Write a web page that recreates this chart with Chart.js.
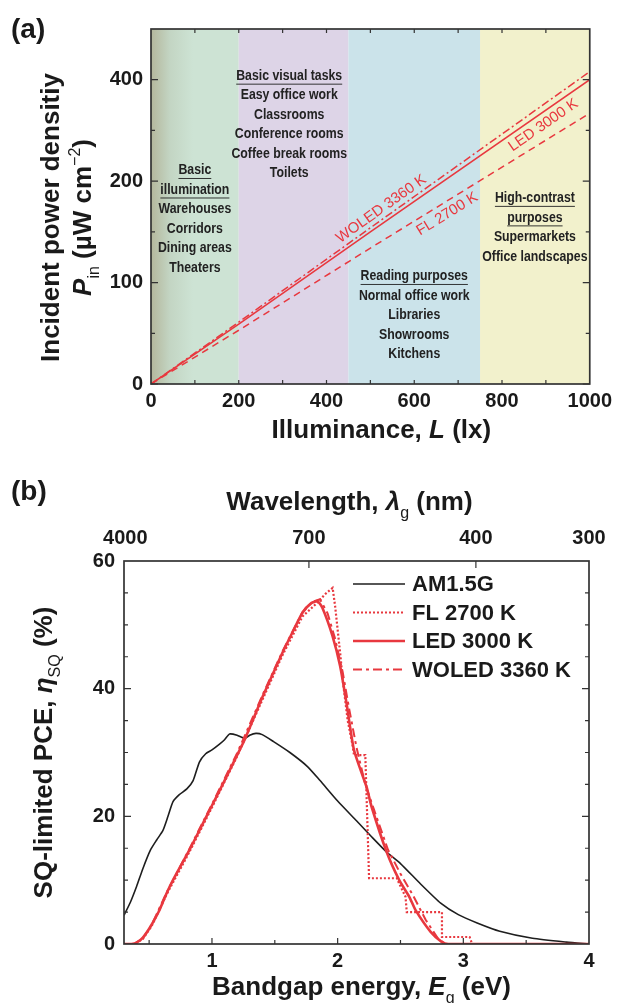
<!DOCTYPE html>
<html>
<head>
<meta charset="utf-8">
<title>Indoor light sources: power density and SQ-limited PCE</title>
<script src="https://cdn.jsdelivr.net/npm/chart.js@4.4.1/dist/chart.umd.min.js"></script>
<style>
  body { margin: 0; background: #fff; }
  canvas { display: block; }
</style>
</head>
<body>
<canvas id="illumCanvas" width="617" height="470"></canvas>
<canvas id="pceCanvas" width="617" height="533"></canvas>
<script>
// ---- (a) incident power density vs illuminance ----
var illuminance = [0, 200, 500, 1000];
var woledPower = [0, 61, 154, 308];
var ledPower = [0, 59, 150, 300];
var flPower = [0, 53, 134, 267];
var illumTicks = [0, 200, 400, 600, 800, 1000];
var powerTicks = [0, 100, 200, 300];
var powerTickLabels = ['0', '100', '200', '400'];
var zoneBounds = [0, 200, 450, 750, 1000];
var zoneHeads = [['Basic', 'illumination'], ['Basic visual tasks'], ['Reading purposes'], ['High-contrast', 'purposes']];
var zoneUses = [
  ['Warehouses', 'Corridors', 'Dining areas', 'Theaters'],
  ['Easy office work', 'Classrooms', 'Conference rooms', 'Coffee break rooms', 'Toilets'],
  ['Normal office work', 'Libraries', 'Showrooms', 'Kitchens'],
  ['Supermarkets', 'Office landscapes']
];

// ---- (b) SQ-limited PCE vs bandgap ----
var amEnergy = [0.30, 0.35, 0.40, 0.45, 0.51, 0.56, 0.61, 0.65, 0.69, 0.74, 0.80, 0.85, 0.90, 0.95, 1.00, 1.06, 1.10, 1.14, 1.20, 1.26, 1.30, 1.35, 1.40, 1.49, 1.62, 1.76, 1.86, 2.00, 2.15, 2.27, 2.39, 2.50, 2.66, 2.82, 2.96, 3.11, 3.29, 3.55, 3.82, 4.00];
var amPce = [4.5, 6.5, 9.0, 11.8, 14.7, 16.3, 17.8, 20.0, 22.3, 23.4, 24.3, 25.6, 28.5, 29.8, 30.4, 31.3, 32.0, 32.9, 32.7, 32.2, 32.7, 33.0, 32.8, 31.7, 30.0, 27.8, 25.6, 22.4, 19.3, 16.8, 14.4, 12.6, 9.4, 6.4, 4.6, 3.3, 2.0, 0.9, 0.3, 0.0];
var flEnergy = [0.30, 0.38, 0.45, 0.52, 0.64, 0.82, 1.00, 1.20, 1.40, 1.56, 1.72, 1.84, 1.90, 1.96, 1.98, 2.02, 2.04, 2.08, 2.12, 2.13, 2.22, 2.25, 2.47, 2.54, 2.55, 2.83, 2.83, 3.05, 3.07, 4.00];
var flPce = [0, 0, 0.8, 2.8, 7.8, 14.4, 21.4, 29.4, 38.2, 45.2, 51.3, 53.5, 54.8, 55.8, 52.9, 45.6, 41.4, 35.0, 31.0, 29.6, 29.6, 10.3, 10.3, 7.4, 5.0, 5.0, 1.1, 1.1, 0, 0];
var ledEnergy = [0.30, 0.36, 0.40, 0.45, 0.51, 0.58, 0.64, 0.70, 0.82, 0.90, 1.00, 1.10, 1.20, 1.26, 1.40, 1.56, 1.64, 1.72, 1.79, 1.84, 1.88, 1.96, 2.02, 2.07, 2.13, 2.23, 2.27, 2.39, 2.49, 2.57, 2.62, 2.74, 2.83, 2.88, 4.00];
var ledPce = [0, 0, 0.2, 1.0, 2.7, 5.2, 8.0, 10.4, 14.7, 17.8, 21.7, 25.6, 29.6, 32.0, 38.6, 45.6, 48.8, 51.9, 53.4, 53.7, 52.6, 48.2, 43.5, 37.8, 30.4, 24.6, 21.5, 14.4, 10.0, 7.4, 5.3, 1.9, 0.3, 0, 0];
var woledEnergy = [0.30, 0.38, 0.45, 0.52, 0.64, 0.82, 1.00, 1.20, 1.40, 1.56, 1.72, 1.80, 1.86, 1.92, 1.98, 2.04, 2.09, 2.15, 2.22, 2.29, 2.40, 2.50, 2.60, 2.70, 2.80, 2.86, 4.00];
var woledPce = [0, 0, 0.9, 3.0, 8.1, 14.9, 21.9, 29.9, 38.9, 45.8, 52.0, 53.6, 54.0, 51.8, 47.8, 42.6, 37.0, 30.8, 25.0, 21.0, 14.8, 11.0, 7.6, 3.8, 0.8, 0, 0];
var energyTicks = [1, 2, 3, 4];
var pceTicks = [0, 20, 40, 60];
var wavelengthTicks = [4000, 700, 400, 300];

var FAMILY = "'Liberation Sans', Arial, Helvetica, sans-serif";
var RED = '#e8383f';
var INK = '#1a1a1a';
Chart.defaults.font.family = FAMILY;
Chart.defaults.color = INK;

function pairs(xs, ys) {
  return xs.map(function (x, i) { return { x: x, y: ys[i] }; });
}

function range(from, to, step) {
  var out = [];
  for (var v = from; v <= to + 1e-9; v += step) out.push(Math.round(v * 1000) / 1000);
  return out;
}

// draws a line of mixed bold / italic / sub / sup pieces centred on (x, y)
function richText(ctx, parts, x, y, size, angle) {
  ctx.save();
  ctx.translate(x, y);
  if (angle) ctx.rotate(angle);
  var fonts = parts.map(function (p) {
    var k = p[1] || 'b';
    if (k === 'sub' || k === 'sup') return Math.round(size * 0.62) + 'px ' + FAMILY;
    return (k === 'bi' ? 'italic bold ' : 'bold ') + size + 'px ' + FAMILY;
  });
  var widths = parts.map(function (p, i) { ctx.font = fonts[i]; return ctx.measureText(p[0]).width; });
  var cx = -widths.reduce(function (s, w) { return s + w; }, 0) / 2;
  ctx.textAlign = 'left';
  ctx.textBaseline = 'alphabetic';
  ctx.fillStyle = INK;
  parts.forEach(function (p, i) {
    ctx.font = fonts[i];
    var dy = p[1] === 'sub' ? size * 0.3 : (p[1] === 'sup' ? -size * 0.42 : 0);
    ctx.fillText(p[0], cx, dy);
    cx += widths[i];
  });
  ctx.restore();
}

// box around the plot with inward tick marks
function framePlugin(marks) {
  return {
    id: 'frame',
    afterDatasetsDraw: function (chart) {
      var ctx = chart.ctx, a = chart.chartArea;
      ctx.save();
      ctx.strokeStyle = '#333';
      ctx.lineWidth = 1.2;
      ctx.beginPath();
      marks.forEach(function (m) {
        var scale = chart.scales[m.scale];
        m.values.forEach(function (v) {
          var p = scale.getPixelForValue(v);
          m.sides.forEach(function (side) {
            if (side === 'bottom') { ctx.moveTo(p, a.bottom); ctx.lineTo(p, a.bottom - m.len); }
            if (side === 'top') { ctx.moveTo(p, a.top); ctx.lineTo(p, a.top + m.len); }
            if (side === 'left') { ctx.moveTo(a.left, p); ctx.lineTo(a.left + m.len, p); }
            if (side === 'right') { ctx.moveTo(a.right, p); ctx.lineTo(a.right - m.len, p); }
          });
        });
      });
      ctx.stroke();
      ctx.lineWidth = 1.7;
      ctx.strokeRect(a.left, a.top, a.right - a.left, a.bottom - a.top);
      ctx.restore();
    }
  };
}

function fixedScale(ticks, labels, size) {
  return {
    type: 'linear',
    grid: { display: false, drawTicks: false },
    border: { display: false },
    ticks: {
      autoSkip: false,
      maxRotation: 0,
      font: { size: 20, weight: 'bold' },
      color: INK,
      callback: function (v, i) { return labels[i]; }
    },
    afterBuildTicks: function (s) { s.ticks = ticks.map(function (v) { return { value: v }; }); },
    afterFit: function (s) { if (s.isHorizontal()) s.height = size; else s.width = size; }
  };
}

// ---------------- panel (a) ----------------
var zonePlugin = {
  id: 'zones',
  beforeDatasetsDraw: function (chart) {
    var ctx = chart.ctx, a = chart.chartArea, xs = chart.scales.x, ys = chart.scales.y;
    var colors = ['#cde3d4', '#ddd4e7', '#cbe3ea', '#f2f1cc'];
    // label anchors: lux of the column centre, power of the first line
    var textAt = [100, 315, 600, 875];
    var textTop = [211, 304, 106.5, 183.5];
    ctx.save();
    for (var i = 0; i < zoneBounds.length - 1; i++) {
      var x0 = xs.getPixelForValue(zoneBounds[i]);
      var x1 = xs.getPixelForValue(zoneBounds[i + 1]);
      var fill = colors[i];
      if (i === 0) {
        fill = ctx.createLinearGradient(x0, 0, x0 + 42, 0);
        fill.addColorStop(0, '#b4b79c');
        fill.addColorStop(0.45, '#c3d5c3');
        fill.addColorStop(1, colors[0]);
      }
      ctx.fillStyle = fill;
      ctx.fillRect(x0, a.top, x1 - x0, a.bottom - a.top);
    }
    ctx.fillStyle = '#222';
    ctx.strokeStyle = '#222';
    ctx.lineWidth = 1;
    ctx.font = 'bold 15px ' + FAMILY;
    ctx.textAlign = 'center';
    ctx.textBaseline = 'middle';
    for (var j = 0; j < zoneHeads.length; j++) {
      var cx = xs.getPixelForValue(textAt[j]);
      var cy = ys.getPixelForValue(textTop[j]);
      var lines = zoneHeads[j].concat(zoneUses[j]);
      lines.forEach(function (t, k) {
        var y = cy + k * 19.5;
        ctx.save();
        ctx.translate(cx, y);
        ctx.scale(0.82, 1);
        ctx.fillText(t, 0, 0);
        if (k < zoneHeads[j].length) {
          var w = ctx.measureText(t).width;
          ctx.beginPath();
          ctx.moveTo(-w / 2, 8.5);
          ctx.lineTo(w / 2, 8.5);
          ctx.stroke();
        }
        ctx.restore();
      });
    }
    ctx.restore();
  }
};

var lineTagPlugin = {
  id: 'lineTags',
  afterDatasetsDraw: function (chart) {
    var ctx = chart.ctx, xs = chart.scales.x, ys = chart.scales.y;
    // dataset index, lux at the tag centre, offset across the line
    [[0, 537, -9], [1, 880, 11], [2, 662, 11]].forEach(function (t) {
      var ds = chart.data.datasets[t[0]];
      var p0 = ds.data[0], p1 = ds.data[ds.data.length - 1];
      var x0 = xs.getPixelForValue(p0.x), y0 = ys.getPixelForValue(p0.y);
      var x1 = xs.getPixelForValue(p1.x), y1 = ys.getPixelForValue(p1.y);
      var f = (t[1] - p0.x) / (p1.x - p0.x);
      ctx.save();
      ctx.translate(x0 + f * (x1 - x0), y0 + f * (y1 - y0));
      ctx.rotate(Math.atan2(y1 - y0, x1 - x0));
      ctx.font = '15px ' + FAMILY;
      ctx.fillStyle = RED;
      ctx.textAlign = 'center';
      ctx.textBaseline = 'middle';
      ctx.fillText(ds.label, 0, t[2]);
      ctx.restore();
    });
  }
};

var titlesA = {
  id: 'titlesA',
  afterDraw: function (chart) {
    var ctx = chart.ctx, a = chart.chartArea;
    var midX = (a.left + a.right) / 2, midY = (a.top + a.bottom) / 2;
    richText(ctx, [['Illuminance, '], ['L', 'bi'], [' (lx)']], midX + 11, a.bottom + 54, 26);
    richText(ctx, [['Incident power densitiy']], 59, midY + 11, 26, -Math.PI / 2);
    richText(ctx, [['P', 'bi'], ['in', 'sub'], [' (\u00b5W cm'], ['\u22122', 'sup'], [')']], 91, midY + 11, 26, -Math.PI / 2);
    ctx.save();
    ctx.font = 'bold 28px ' + FAMILY;
    ctx.fillStyle = INK;
    ctx.fillText('(a)', 11, 38);
    ctx.restore();
  }
};

var xA = fixedScale(illumTicks, illumTicks.map(String), 86);
xA.min = 0; xA.max = 1000; xA.ticks.padding = 5;
var yA = fixedScale(powerTicks, powerTickLabels, 151);
yA.min = 0; yA.max = 350; yA.ticks.padding = 8;

new Chart(document.getElementById('illumCanvas'), {
  type: 'line',
  data: {
    datasets: [
      { label: 'WOLED 3360 K', data: pairs(illuminance, woledPower), borderColor: RED, borderWidth: 1.5, borderDash: [8, 3, 2, 3], pointRadius: 0 },
      { label: 'LED 3000 K', data: pairs(illuminance, ledPower), borderColor: RED, borderWidth: 1.6, pointRadius: 0 },
      { label: 'FL 2700 K', data: pairs(illuminance, flPower), borderColor: RED, borderWidth: 1.5, borderDash: [7, 5], pointRadius: 0 }
    ]
  },
  options: {
    responsive: false,
    animation: false,
    layout: { padding: { left: 0, top: 29, right: 25, bottom: 0 } },
    plugins: { legend: { display: false }, tooltip: { enabled: false } },
    scales: { x: xA, y: yA }
  },
  plugins: [zonePlugin, lineTagPlugin, framePlugin([
    { scale: 'x', values: range(100, 900, 100), len: 4, sides: ['bottom', 'top'] },
    { scale: 'y', values: powerTicks, len: 7, sides: ['left', 'right'] },
    { scale: 'y', values: [50, 150, 250], len: 4, sides: ['left', 'right'] }
  ]), titlesA]
});

// ---------------- panel (b) ----------------
var legendB = {
  id: 'legendB',
  afterDraw: function (chart) {
    var ctx = chart.ctx, a = chart.chartArea;
    chart.data.datasets.forEach(function (ds, i) {
      var y = a.top + 23 + i * 28.5;
      ctx.save();
      ctx.strokeStyle = ds.borderColor;
      ctx.lineWidth = ds.borderWidth;
      ctx.setLineDash(ds.borderDash || []);
      ctx.beginPath();
      ctx.moveTo(353, y);
      ctx.lineTo(405, y);
      ctx.stroke();
      ctx.font = 'bold 22px ' + FAMILY;
      ctx.fillStyle = INK;
      ctx.textBaseline = 'middle';
      ctx.fillText(ds.label, 412, y + 1);
      ctx.restore();
    });
  }
};

var titlesB = {
  id: 'titlesB',
  afterDraw: function (chart) {
    var ctx = chart.ctx, a = chart.chartArea;
    var midX = (a.left + a.right) / 2, midY = (a.top + a.bottom) / 2;
    richText(ctx, [['Wavelength, '], ['\u03bb', 'bi'], ['g', 'sub'], [' (nm)']], midX - 7, 40, 26);
    richText(ctx, [['Bandgap energy, '], ['E', 'bi'], ['g', 'sub'], [' (eV)']], midX + 5, a.bottom + 51, 26);
    richText(ctx, [['SQ-limited PCE, '], ['\u03b7', 'bi'], ['SQ', 'sub'], [' (%)']], 52, midY, 26, -Math.PI / 2);
    ctx.save();
    ctx.font = 'bold 28px ' + FAMILY;
    ctx.fillStyle = INK;
    ctx.fillText('(b)', 11, 30);
    ctx.restore();
  }
};

var E_MIN = 0.3, E_MAX = 4.0;
var xB = fixedScale(energyTicks, energyTicks.map(String), 59);
xB.min = E_MIN; xB.max = E_MAX; xB.ticks.padding = 5;
var x2B = fixedScale(wavelengthTicks.map(function (w) { return Math.min(1240 / w, E_MAX); }), wavelengthTicks.map(String), 91);
x2B.min = E_MIN; x2B.max = E_MAX; x2B.position = 'top'; x2B.ticks.padding = 11;
var yB = fixedScale(pceTicks, pceTicks.map(String), 124);
yB.min = 0; yB.max = 60; yB.ticks.padding = 9;

new Chart(document.getElementById('pceCanvas'), {
  type: 'line',
  data: {
    datasets: [
      { label: 'AM1.5G', data: pairs(amEnergy, amPce), borderColor: '#1e1e1e', borderWidth: 1.6, pointRadius: 0, tension: 0.2, order: 4 },
      { label: 'FL 2700 K', data: pairs(flEnergy, flPce), borderColor: RED, borderWidth: 2.2, borderDash: [2, 2], pointRadius: 0, order: 3 },
      { label: 'LED 3000 K', data: pairs(ledEnergy, ledPce), borderColor: RED, borderWidth: 2.6, pointRadius: 0, tension: 0.2, order: 1 },
      { label: 'WOLED 3360 K', data: pairs(woledEnergy, woledPce), borderColor: RED, borderWidth: 2, borderDash: [9, 4, 3, 4], pointRadius: 0, order: 2 }
    ]
  },
  options: {
    responsive: false,
    animation: false,
    layout: { padding: { left: 0, top: 0, right: 28, bottom: 0 } },
    plugins: { legend: { display: false }, tooltip: { enabled: false } },
    scales: { x: xB, x2: x2B, y: yB }
  },
  plugins: [framePlugin([
    { scale: 'x', values: [1, 2, 3], len: 6, sides: ['bottom'] },
    { scale: 'x', values: [0.5, 1.5, 2.5, 3.5], len: 4, sides: ['bottom'] },
    { scale: 'x', values: [1240 / 700, 1240 / 400], len: 7, sides: ['top'] },
    { scale: 'y', values: [20, 40], len: 7, sides: ['left', 'right'] },
    { scale: 'y', values: [5, 10, 15, 25, 30, 35, 45, 50, 55], len: 4, sides: ['left', 'right'] }
  ]), legendB, titlesB]
});
</script>
</body>
</html>
